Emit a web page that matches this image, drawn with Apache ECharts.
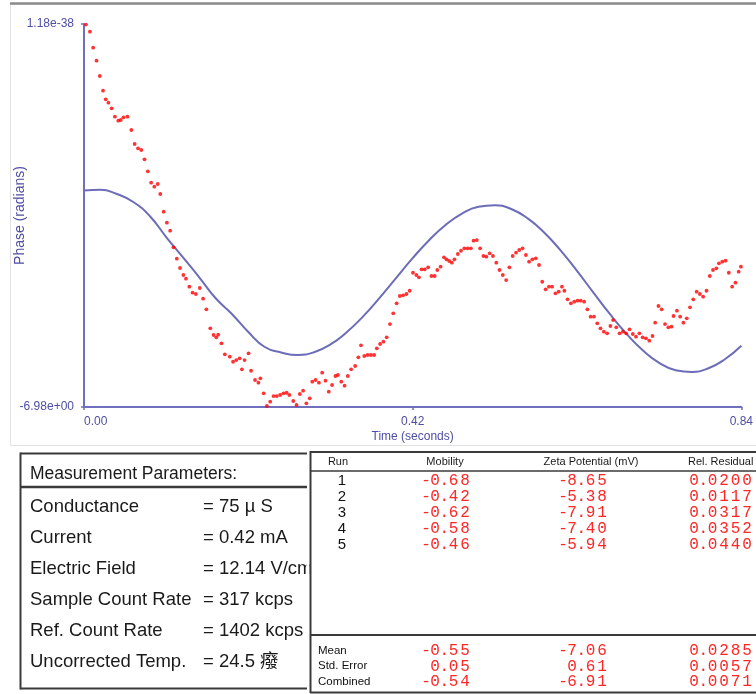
<!DOCTYPE html>
<html><head><meta charset="utf-8">
<script src="https://cdn.jsdelivr.net/npm/echarts@6/dist/echarts.min.js"></script>
<style>html,body{margin:0;padding:0;background:#fff}#c{width:756px;height:694px}</style>
</head><body><div id="c"></div>
<script>
// ---- phase data (red dots) ----
const times = [
0.0025,0.0076,0.0117,0.0160,0.0202,0.0243,0.0277,0.0312,0.0353,0.0395,
0.0438,0.0470,0.0505,0.0555,0.0605,0.0647,0.0690,0.0732,0.0773,0.0816,
0.0858,0.0899,0.0942,0.0975,0.1018,0.1059,0.1101,0.1144,0.1186,0.1227,
0.1270,0.1303,0.1346,0.1387,0.1429,0.1480,0.1522,0.1564,0.1614,0.1656,
0.1690,0.1715,0.1757,0.1800,0.1863,0.1905,0.1946,0.1989,0.2018,0.2052,
0.2103,0.2135,0.2186,0.2229,0.2254,0.2296,0.2337,0.2380,0.2422,0.2463,
0.2506,0.2548,0.2589,0.2624,0.2674,0.2716,0.2758,0.2800,0.2842,0.2885,
0.2917,0.2960,0.3002,0.3044,0.3086,0.3128,0.3170,0.3213,0.3245,0.3288,
0.3330,0.3371,0.3414,0.3465,0.3506,0.3540,0.3582,0.3624,0.3667,0.3708,
0.3742,0.3784,0.3826,0.3868,0.3910,0.3952,0.3995,0.4036,0.4078,0.4121,
0.4162,0.4204,0.4247,0.4280,0.4314,0.4355,0.4398,0.4440,0.4481,0.4515,
0.4557,0.4600,0.4633,0.4667,0.4701,0.4734,0.4777,0.4818,0.4860,0.4903,
0.4944,0.4978,0.5020,0.5062,0.5104,0.5142,0.5184,0.5226,0.5269,0.5310,
0.5352,0.5395,0.5436,0.5478,0.5521,0.5562,0.5604,0.5647,0.5688,0.5730,
0.5773,0.5815,0.5856,0.5899,0.5941,0.5982,0.6025,0.6067,0.6108,0.6139,
0.6180,0.6222,0.6265,0.6307,0.6348,0.6391,0.6433,0.6474,0.6517,0.6559,
0.6600,0.6643,0.6685,0.6727,0.6761,0.6802,0.6845,0.6887,0.6928,0.6971,
0.7013,0.7054,0.7097,0.7139,0.7181,0.7224,0.7265,0.7299,0.7341,0.7382,
0.7425,0.7467,0.7508,0.7534,0.7577,0.7618,0.7660,0.7703,0.7744,0.7786,
0.7829,0.7870,0.7912,0.7955,0.7997,0.8038,0.8081,0.8114,0.8157,0.8199,
0.8240,0.8283,0.8325,0.8366,0.8395
];
const phases = [
-0.010,-0.140,-0.432,-0.669,-0.948,-1.216,-1.372,-1.434,-1.536,-1.689,
-1.762,-1.750,-1.700,-1.689,-1.932,-2.187,-2.265,-2.296,-2.466,-2.685,
-2.892,-2.965,-2.916,-3.098,-3.421,-3.621,-3.767,-4.070,-4.277,-4.447,
-4.574,-4.642,-4.788,-4.897,-4.921,-4.811,-5.006,-5.200,-5.546,-5.668,
-5.710,-5.662,-5.819,-6.020,-6.063,-6.155,-6.124,-6.093,-6.293,-6.124,
-6.002,-6.319,-6.488,-6.537,-6.457,-6.731,-6.960,-6.883,-6.780,-6.780,
-6.761,-6.731,-6.720,-6.761,-6.871,-6.944,-6.743,-6.683,-6.913,-6.822,
-6.519,-6.488,-6.537,-6.355,-6.501,-6.701,-6.579,-6.415,-6.397,-6.519,
-6.592,-6.415,-6.293,-6.233,-6.074,-5.856,-6.051,-6.032,-6.032,-6.032,
-5.910,-5.832,-5.790,-5.710,-5.468,-5.272,-5.090,-4.957,-4.944,-4.921,
-4.861,-4.533,-4.574,-4.616,-4.471,-4.471,-4.434,-4.593,-4.593,-4.483,
-4.423,-4.252,-4.288,-4.319,-4.350,-4.288,-4.192,-4.132,-4.088,-4.088,
-4.088,-3.949,-3.937,-4.088,-4.228,-4.241,-4.179,-4.228,-4.350,-4.483,
-4.574,-4.666,-4.434,-4.228,-4.168,-4.119,-4.088,-4.210,-4.332,-4.288,
-4.270,-4.392,-4.697,-4.835,-4.788,-4.788,-4.908,-4.879,-4.788,-4.861,
-5.017,-5.090,-5.061,-5.043,-5.043,-5.061,-5.200,-5.334,-5.334,-5.455,
-5.546,-5.608,-5.637,-5.504,-5.395,-5.528,-5.637,-5.608,-5.637,-5.564,
-5.650,-5.699,-5.637,-5.710,-5.728,-5.772,-5.686,-5.444,-5.139,-5.200,
-5.468,-5.528,-5.517,-5.322,-5.225,-5.334,-5.444,-5.364,-5.163,-5.017,
-4.879,-4.921,-4.970,-4.861,-4.593,-4.483,-4.452,-4.361,-4.332,-4.314,
-4.533,-4.788,-4.715,-4.514,-4.423
];
// ---- fitted curve (blue line), read every 0.021 s ----
const fitTimes = [
0.000,0.021,0.042,0.063,0.084,0.105,0.126,0.147,0.168,0.189,
0.210,0.231,0.252,0.273,0.294,0.315,0.336,0.357,0.378,0.399,
0.420,0.441,0.462,0.483,0.504,0.525,0.546,0.567,0.588,0.609,
0.630,0.651,0.672,0.693,0.714,0.735,0.756,0.777,0.798,0.819,0.840];
const fitPhases = [
-3.034,-3.022,-3.098,-3.244,-3.499,-3.882,-4.246,-4.611,-4.994,-5.285,
-5.613,-5.887,-5.987,-6.032,-5.981,-5.839,-5.613,-5.323,-4.985,-4.625,
-4.268,-3.940,-3.663,-3.454,-3.330,-3.301,-3.372,-3.543,-3.800,-4.126,
-4.500,-4.895,-5.285,-5.642,-5.947,-6.175,-6.309,-6.340,-6.273,-6.109,-5.863];
const xTickLabels = ['0.00','0.42','0.84'];
const yTickLabels = ['-6.98e+00','1.18e-38'];
// ---- tables ----
const paramTitle = 'Measurement Parameters:';
const paramLabels = ['Conductance','Current','Electric Field','Sample Count Rate','Ref. Count Rate','Uncorrected Temp.'];
const paramValues = ['= 75 \u00b5 S','= 0.42 mA','= 12.14 V/cm','= 317 kcps','= 1402 kcps','= 24.5 \u7648'];
const tableHeaders = ['Run','Mobility','Zeta Potential (mV)','Rel. Residual'];
const runs = ['1','2','3','4','5'];
const mobility = ['-0.68','-0.42','-0.62','-0.58','-0.46'];
const zeta = ['-8.65','-5.38','-7.91','-7.40','-5.94'];
const residual = ['0.0200','0.0117','0.0317','0.0352','0.0440'];
const summaryLabels = ['Mean','Std. Error','Combined'];
const summaryMobility = ['-0.55','0.05','-0.54'];
const summaryZeta = ['-7.06','0.61','-6.91'];
const summaryResidual = ['0.0285','0.0057','0.0071'];

const SANS = '"Liberation Sans", Arial, "Noto Sans CJK SC", sans-serif';
const MONO = '"Liberation Mono", "DejaVu Sans Mono", monospace';
const axisColor = '#6f6fbd';
const axisText = '#4e4ea4';
const RED = '#ff2626';
const g = [];
function line(x1,y1,x2,y2,w,c,z){ g.push({type:'line', z:z||103, silent:true, shape:{x1:x1,y1:y1,x2:x2,y2:y2}, style:{stroke:c||'#3a3a3a', lineWidth:w||1}}); }
function text(str,x,y,font,fill,align,z){
  g.push({type:'text', z:z||101, silent:true, x:x, y:y,
    style:{text:str, font:font, fill:fill||'#1a1a1a', align:align||'left', textAlign:align||'left', verticalAlign:'middle', textVerticalAlign:'middle'}});
}
function spaced(str,rightX,y){
  const ch = str.split('');
  let x = rightX;
  for (let k = ch.length-1; k >= 0; k--) {
    text(ch[k], x, y, '16px '+MONO, RED, 'center', 104);
    if (k > 0) {
      const a = ch[k-1], b = ch[k];
      x -= (a === '.' || b === '.') ? 9.25 : (a === '-' ? 9 : 11.5);
    }
  }
}
// panel frame
g.push({type:'rect', z:0, silent:true, shape:{x:10.5,y:4,width:746,height:441.5}, style:{fill:'none', stroke:'#e2e2e2', lineWidth:1}});
line(10,3.5,756,3.5,2.5,'#8a8a8a',1);
// left table
line(20.5,453.5,307,453.5,2);
line(21,487,307,487,2.5);
line(20.5,688.5,307,688.5,2);
line(20.5,452.5,20.5,689.5,2);
text(paramTitle,30,474,'17.5px '+SANS);
paramLabels.forEach((s,i)=>{ text(s,30,507+31*i,'18.5px '+SANS); text(paramValues[i],203,507+31*i,'18.5px '+SANS); });
g.push({type:'rect', z:102, silent:true, shape:{x:306.5,y:455,width:3,height:232}, style:{fill:'#fff'}});
g.push({type:'rect', z:102, silent:true, shape:{x:311,y:453,width:445,height:239}, style:{fill:'#fff'}});
// right table
line(310,452,756,452,2);
line(310.5,451,310.5,693,2);
line(310,471,756,471,1.5);
line(310,635,756,635,2);
line(310,692.5,756,692.5,2);
const hdrX = [338,445,591,688];
const hdrAlign = ['center','center','center','left'];
tableHeaders.forEach((h,i)=> text(h, hdrX[i], 462, '11px '+SANS, '#1a1a1a', hdrAlign[i], 104));
const colR = [465,602,747];
function valRow(vals,y){ vals.forEach((v,j)=>spaced(v,colR[j],y)); }
runs.forEach((r,i)=>{
  const y = 481+16*i;
  text(r, 342, y, '15px '+SANS, '#111', 'center', 104);
  valRow([mobility[i],zeta[i],residual[i]], y);
});
summaryLabels.forEach((s,i)=>{
  const y = 651+15.3*i;
  text(s, 318, y, '11.5px '+SANS, '#111', 'left', 104);
  valRow([summaryMobility[i],summaryZeta[i],summaryResidual[i]], y);
});

const chart = echarts.init(document.getElementById('c'), null, {renderer:'canvas'});
chart.setOption({
  animation:false,
  backgroundColor:'#fff',
  grid:{left:84, right:6, top:24, bottom:287, containLabel:false},
  xAxis:{type:'value', min:0, max:0.84, interval:0.42,
    axisLine:{onZero:false, lineStyle:{color:axisColor, width:2}},
    axisTick:{show:true, length:3, lineStyle:{color:axisColor, width:1.5}},
    splitLine:{show:false},
    axisLabel:{color:axisText, fontSize:12, fontFamily:SANS, margin:9, showMinLabel:true, showMaxLabel:true,
      alignMinLabel:'left',
      formatter:(v)=> xTickLabels[Math.round(v/0.42)]},
    name:'Time (seconds)', nameLocation:'middle', nameGap:24, nameMoveOverlap:false,
    nameTextStyle:{color:axisText, fontSize:12, fontFamily:SANS}},
  yAxis:{type:'value', min:-6.98, max:0, interval:6.98,
    axisLine:{show:true, lineStyle:{color:axisColor, width:2}},
    axisTick:{show:true, length:3, lineStyle:{color:axisColor, width:1.5}},
    splitLine:{show:false},
    axisLabel:{color:axisText, fontSize:12, fontFamily:SANS, margin:10, showMinLabel:true, showMaxLabel:true,
      formatter:(v)=> v < -3 ? yTickLabels[0] : yTickLabels[1]},
    name:'Phase (radians)', nameLocation:'middle', nameGap:57, nameMoveOverlap:false,
    nameTextStyle:{color:axisText, fontSize:14, fontFamily:SANS}},
  series:[
    {type:'scatter', data: times.map((t,i)=>[t,phases[i]]), symbolSize:3.8, itemStyle:{color:'#ff0000'}, z:3},
    {type:'line', data: fitTimes.map((t,i)=>[t,fitPhases[i]]), smooth:0.5, showSymbol:false, symbol:'none',
      lineStyle:{color:'#6c6cb9', width:2}, z:2}
  ],
  graphic: g
});
</script></body></html>
